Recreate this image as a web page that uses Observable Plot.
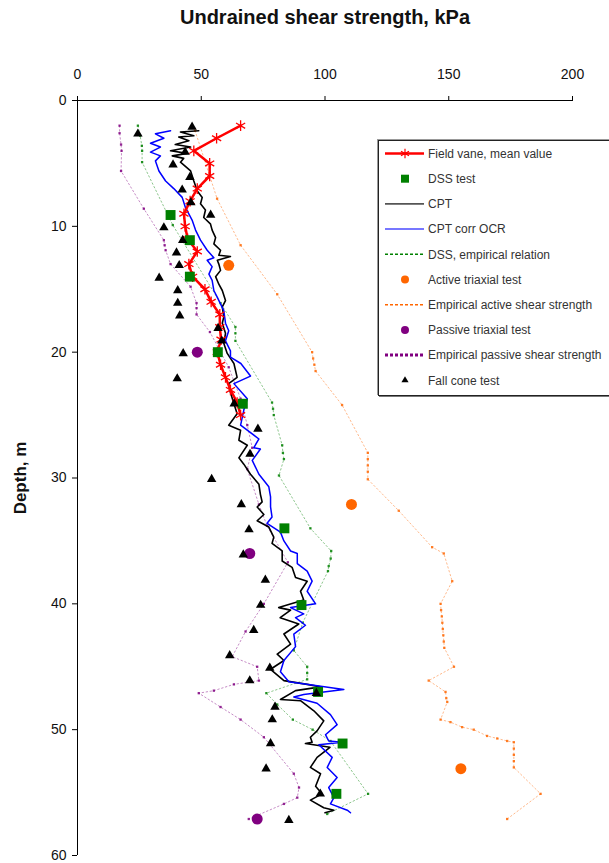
<!DOCTYPE html>
<html>
<head>
<meta charset="utf-8">
<script src="https://cdn.jsdelivr.net/npm/d3@7"></script>
<script src="https://cdn.jsdelivr.net/npm/@observablehq/plot@0.6"></script>
<style>
  html, body { margin: 0; padding: 0; background: #fff; }
  #wrap { position: relative; width: 609px; height: 863px; overflow: hidden; font-family: "Liberation Sans", Arial, sans-serif; }
  #legend { position: absolute; left: 378px; top: 140px; width: 250px; height: 254px;
            border: 1px solid #222; box-shadow: 1px 1px 0 #777, -1px -1px 0 #999; background: #fff; }
  #legend svg { display: block; }
</style>
</head>
<body>
<div id="wrap"></div>
<script>
// Undrained shear strength profile, [depth (m), su (kPa)]
const xTicks = [0, 50, 100, 150, 200];
const yTicks = [0, 10, 20, 30, 40, 50, 60];

const fieldVane = [
  [2.0, 65.9], [3.0, 56.2], [4.0, 47.0], [5.0, 53.4], [6.0, 53.4], [7.0, 48.4], [8.0, 45.5],
  [9.0, 43.0], [10.0, 43.5], [11.0, 44.5], [12.0, 48.4], [13.0, 45.0], [14.0, 46.5], [15.0, 51.5],
  [16.0, 54.0], [17.0, 57.5], [18.0, 57.5], [19.0, 58.0], [20.0, 56.5], [21.0, 57.8], [22.0, 59.8],
  [23.0, 61.8], [24.0, 64.5], [25.0, 65.9]
];

const dssTest = [
  [9.1, 37.6], [11.1, 45.4], [14.0, 45.4], [20.0, 56.7], [24.1, 66.8], [34.0, 83.6],
  [40.1, 90.5], [47.0, 97.2], [51.1, 107.1], [55.1, 104.6]
];

const cpt = [
  [2.4, 49.0], [2.5, 41.6], [2.8, 47.0], [2.9, 40.9], [3.2, 45.0], [3.5, 39.5], [3.7, 45.7],
  [4.0, 37.6], [4.2, 44.3], [4.4, 38.3], [4.6, 42.9], [4.9, 41.6], [5.6, 45.7], [6.4, 47.0],
  [7.2, 48.4], [7.7, 50.4], [8.2, 49.7], [8.7, 51.7], [9.3, 51.0], [9.8, 53.7], [10.3, 54.4],
  [10.9, 55.8], [11.4, 55.1], [11.9, 57.8], [12.3, 57.1], [12.4, 61.8], [12.7, 56.5], [13.0, 57.1],
  [13.5, 57.8], [14.0, 55.8], [14.6, 57.1], [15.1, 58.5], [15.9, 59.8], [16.4, 58.5], [17.2, 59.1],
  [17.7, 58.5], [18.5, 59.8], [19.3, 59.1], [20.1, 60.5], [20.9, 63.2], [22.0, 64.5], [22.5, 61.1],
  [23.0, 61.5], [24.1, 63.2], [24.9, 64.5], [25.8, 61.1], [26.2, 65.9], [27.0, 65.2], [27.4, 68.6],
  [28.4, 65.2], [28.9, 67.2], [29.7, 69.9], [30.5, 73.3], [31.3, 73.9], [31.9, 74.6], [32.3, 72.6],
  [32.9, 75.3], [33.4, 72.6], [33.9, 77.3], [34.7, 79.3], [35.2, 78.6], [35.8, 82.7], [36.6, 82.7],
  [37.1, 86.7], [37.9, 88.1], [38.2, 92.8], [39.0, 90.1], [39.7, 91.4], [40.3, 81.3], [40.5, 86.1],
  [41.1, 81.9], [41.6, 89.4], [42.4, 83.4], [43.2, 86.1], [44.0, 80.7], [44.5, 83.4], [45.2, 78.0],
  [46.1, 83.4], [46.4, 92.8], [46.6, 98.2], [46.9, 88.1], [47.6, 82.0], [47.7, 90.1], [48.5, 95.5],
  [49.3, 99.5], [50.1, 96.8], [50.6, 94.1], [51.0, 94.8], [51.1, 92.1], [51.4, 102.0], [52.2, 96.8],
  [53.0, 94.1], [53.5, 98.2], [54.5, 96.2], [55.1, 98.8], [55.6, 94.1], [56.2, 99.5], [56.4, 103.6],
  [56.6, 100.0]
];

const cptCorrOcr = [
  [2.4, 37.6], [2.65, 31.5], [3.0, 34.9], [3.4, 29.5], [3.7, 33.5], [4.1, 29.5], [4.4, 33.5],
  [4.8, 31.5], [5.6, 32.9], [6.4, 35.6], [7.0, 38.9], [7.7, 42.3], [8.5, 43.6], [9.5, 46.3],
  [10.3, 47.7], [11.1, 49.7], [11.9, 52.4], [12.5, 55.1], [12.7, 52.4], [13.2, 54.4], [13.8, 53.1],
  [14.3, 54.4], [15.1, 55.1], [15.6, 56.4], [16.7, 59.1], [17.7, 59.8], [18.3, 61.1], [19.1, 59.8],
  [19.9, 61.8], [20.4, 61.8], [20.9, 66.0], [21.9, 69.9], [22.5, 63.2], [23.7, 68.6], [24.6, 67.2],
  [25.8, 65.9], [26.9, 73.3], [27.6, 71.2], [27.7, 73.9], [28.6, 70.6], [29.7, 73.3], [30.7, 77.3],
  [31.5, 78.0], [32.3, 78.0], [33.1, 78.6], [33.6, 76.6], [34.3, 82.0], [35.0, 83.4], [35.8, 86.1],
  [36.0, 88.8], [36.8, 88.8], [37.4, 92.8], [38.2, 94.8], [39.0, 92.8], [40.0, 96.2], [40.3, 86.1],
  [40.8, 91.4], [41.1, 88.1], [41.7, 92.1], [42.4, 87.4], [43.4, 88.1], [44.5, 83.4], [45.4, 82.0],
  [46.2, 85.4], [46.8, 107.6], [47.2, 91.4], [47.4, 87.4], [47.9, 96.8], [48.8, 102.2], [49.6, 104.9],
  [50.4, 100.2], [50.9, 101.5], [51.0, 106.9], [51.2, 97.5], [52.2, 102.9], [53.0, 100.9],
  [53.8, 104.9], [54.6, 101.5], [55.4, 103.6], [55.9, 102.2], [56.4, 109.0], [56.6, 110.3]
];

const dssEmpirical = [
  [2.0, 24.4], [2.8, 25.3], [3.6, 26.0], [4.0, 26.1], [4.9, 26.1], [9.9, 38.5], [16.1, 57.8],
  [18.0, 63.8], [18.5, 63.8], [19.1, 63.8], [24.0, 78.6], [24.5, 79.0], [25.0, 79.3], [27.4, 82.7],
  [28.0, 83.0], [28.5, 83.4], [29.8, 81.4], [34.0, 94.1], [35.8, 102.5], [36.4, 102.3], [37.0, 101.5],
  [37.4, 101.2], [41.5, 91.0], [43.7, 87.4], [45.0, 92.8], [45.5, 92.8], [46.0, 92.8], [47.1, 76.3],
  [48.0, 80.7], [49.2, 87.0], [50.0, 95.0], [50.9, 102.2], [55.1, 117.4], [56.7, 100.9]
];

const activeTriaxial = [[13.1, 61.1], [32.1, 110.7], [53.1, 154.9]];

const activeEmpirical = [
  [2.4, 47.5], [7.8, 56.4], [11.5, 65.9], [15.4, 80.7], [20.0, 94.8], [20.5, 95.2], [21.0, 95.7],
  [21.5, 96.2], [24.2, 106.9], [28.0, 117.3], [28.5, 117.3], [29.0, 117.3], [29.5, 117.3],
  [30.1, 117.3], [32.6, 129.8], [35.5, 143.3], [36.0, 148.0], [38.2, 151.4], [40.0, 146.7],
  [40.5, 146.9], [41.0, 147.2], [41.5, 147.4], [42.0, 147.6], [42.5, 147.8], [43.0, 148.0],
  [43.5, 148.2], [45.0, 152.1], [46.1, 141.9], [47.0, 148.7], [47.5, 149.0], [47.8, 149.4],
  [49.2, 146.7], [49.4, 150.7], [49.8, 155.4], [50.0, 160.1], [50.5, 165.5], [50.7, 169.6],
  [50.9, 173.6], [51.0, 176.3], [51.5, 176.3], [52.0, 176.3], [52.5, 176.3], [53.0, 176.3],
  [55.1, 187.1], [57.1, 173.6]
];

const passiveTriaxial = [[20.0, 48.4], [36.0, 69.6], [57.1, 72.6]];

const passiveEmpirical = [
  [2.0, 17.0], [2.6, 17.0], [3.5, 17.6], [4.0, 17.8], [5.6, 17.6], [8.6, 26.8], [11.1, 34.9],
  [11.5, 35.2], [11.9, 35.6], [13.0, 37.6], [14.8, 45.7], [16.1, 48.1], [16.5, 48.1], [17.0, 48.1],
  [18.4, 53.5], [21.2, 61.1], [23.7, 65.9], [25.8, 68.6], [27.6, 70.6], [29.3, 68.6], [32.1, 73.3],
  [33.8, 76.6], [36.7, 85.0], [40.0, 75.3], [42.2, 67.9], [44.2, 62.5], [45.0, 72.6], [46.1, 73.3],
  [46.4, 63.2], [46.9, 55.1], [47.1, 49.0], [48.2, 57.8], [49.2, 65.9], [50.6, 75.3], [53.5, 87.4],
  [54.6, 89.5], [55.4, 88.8], [55.9, 83.4], [57.1, 69.2]
];

const fallCone = [
  [2.1, 46.3], [2.65, 24.4], [4.1, 43.5], [5.1, 38.6], [6.1, 45.4], [7.1, 42.3], [8.1, 45.8],
  [9.1, 53.8], [10.1, 34.9], [11.1, 42.5], [12.1, 40.0], [13.1, 41.1], [14.1, 33.0], [15.1, 40.5],
  [16.1, 40.5], [17.1, 41.3], [18.1, 56.8], [19.1, 58.3], [20.1, 42.7], [22.1, 40.3], [24.1, 63.3],
  [26.1, 72.9], [28.1, 69.7], [30.1, 54.2], [32.1, 66.2], [34.1, 69.3], [36.1, 67.0], [38.1, 75.9],
  [40.1, 74.0], [42.1, 71.2], [44.1, 61.5], [45.1, 77.7], [46.1, 69.6], [47.1, 96.5], [48.2, 79.8],
  [49.2, 78.7], [51.1, 78.0], [53.1, 76.2], [55.1, 98.1], [57.2, 85.4]
];

const legendLabels = [
  "Field vane, mean value", "DSS test", "CPT", "CPT corr OCR", "DSS, empirical relation",
  "Active triaxial test", "Empirical active shear strength", "Passive triaxial test",
  "Empirical passive shear strength", "Fall cone test"
];

const titleText = "Undrained shear strength, kPa";
const depthLabel = "Depth, m";

const C = {
  red: "#ff0000", green: "#008000", black: "#000000", blue: "#0000ff",
  orange: "#ff6600", purple: "#800080"
};

const rows = a => a.map(([d, v]) => ({d, v}));

// thin dotted empirical curve with small square vertices
const dotted = (a, color) => [
  Plot.line(rows(a), {x: "v", y: "d", stroke: color, strokeWidth: 1, strokeDasharray: "1.5,2.5", strokeOpacity: 0.45}),
  Plot.dot(rows(a), {x: "v", y: "d", symbol: "square", r: 1.3, fill: color, stroke: "none", fillOpacity: 0.85})
];

const chart = Plot.plot({
  width: 609,
  height: 863,
  marginTop: 100,
  marginLeft: 77,
  marginRight: 37,
  marginBottom: 8,
  style: {fontFamily: "'Liberation Sans', Arial, sans-serif", fontSize: "14px", color: "#111", background: "#fff"},
  x: {domain: [0, 200], axis: null},
  y: {domain: [0, 60], reverse: true, axis: null},
  marks: [
    ...dotted(dssEmpirical, C.green),
    ...dotted(activeEmpirical, C.orange),
    ...dotted(passiveEmpirical, C.purple),
    Plot.line(rows(cpt), {x: "v", y: "d", stroke: C.black, strokeWidth: 1.6}),
    Plot.line(rows(cptCorrOcr), {x: "v", y: "d", stroke: C.blue, strokeWidth: 1.5}),
    Plot.line(rows(fieldVane), {x: "v", y: "d", stroke: C.red, strokeWidth: 2.5}),
    Plot.dot(rows(fieldVane), {x: "v", y: "d", symbol: d3.symbolAsterisk, r: 5, stroke: C.red, fill: "none", strokeWidth: 1.3}),
    Plot.dot(rows(dssTest), {x: "v", y: "d", symbol: "square", r: 5.6, fill: C.green, stroke: "none"}),
    Plot.dot(rows(activeTriaxial), {x: "v", y: "d", r: 5.5, fill: C.orange, stroke: "none"}),
    Plot.dot(rows(passiveTriaxial), {x: "v", y: "d", r: 5.5, fill: C.purple, stroke: "none"}),
    Plot.dot(rows(fallCone), {x: "v", y: "d", symbol: "triangle", r: 3.5, fill: C.black, stroke: "none"}),
    Plot.ruleY([0], {stroke: "#000", strokeWidth: 1}),
    Plot.ruleX([0], {stroke: "#000", strokeWidth: 1}),
    Plot.axisX({anchor: "top", ticks: xTicks, tickSize: 5, tickPadding: 17, label: null, stroke: "#000"}),
    Plot.axisY({anchor: "left", ticks: yTicks, tickSize: 5, tickPadding: 6, label: null, stroke: "#000"}),
    Plot.text([titleText], {frameAnchor: "top", dy: -91, fontWeight: "bold", fontSize: 20, fill: "#111", lineAnchor: "top"}),
    Plot.text([depthLabel], {frameAnchor: "left", textAnchor: "middle", rotate: -90, dx: -57, fontWeight: "bold", fontSize: 17, fill: "#111"})
  ]
});

const wrap = document.getElementById("wrap");
wrap.appendChild(chart);

// legend box, clipped by the right edge of the page
const legend = d3.select(wrap).append("div").attr("id", "legend");
const lsvg = legend.append("svg").attr("width", 250).attr("height", 254);
const rowH = 25.2, y0 = 12.5, sx1 = 6, sx2 = 45, cx = 26;
const swatches = [
  g => { g.append("line").attr("x1", sx1).attr("x2", sx2).attr("stroke", C.red).attr("stroke-width", 2.5);
         g.append("path").attr("d", d3.symbol(d3.symbolAsterisk, 60)()).attr("transform", `translate(${cx},0)`).attr("stroke", C.red).attr("fill", "none").attr("stroke-width", 1.2); },
  g => g.append("rect").attr("x", cx - 4).attr("y", -4).attr("width", 8).attr("height", 8).attr("fill", C.green),
  g => g.append("line").attr("x1", sx1).attr("x2", sx2).attr("stroke", "#555").attr("stroke-width", 1.6),
  g => g.append("line").attr("x1", sx1).attr("x2", sx2).attr("stroke", "#7777ff").attr("stroke-width", 2),
  g => g.append("line").attr("x1", sx1).attr("x2", sx2).attr("stroke", C.green).attr("stroke-width", 1.4).attr("stroke-dasharray", "3,2"),
  g => g.append("circle").attr("cx", cx).attr("r", 4).attr("fill", C.orange),
  g => g.append("line").attr("x1", sx1).attr("x2", sx2).attr("stroke", C.orange).attr("stroke-width", 1.4).attr("stroke-dasharray", "3,2"),
  g => g.append("circle").attr("cx", cx).attr("r", 4).attr("fill", C.purple),
  g => g.append("line").attr("x1", sx1).attr("x2", sx2).attr("stroke", C.purple).attr("stroke-width", 3).attr("stroke-dasharray", "3,2"),
  g => g.append("path").attr("d", d3.symbol(d3.symbolTriangle, 22)()).attr("transform", `translate(${cx},0)`).attr("fill", C.black)
];
legendLabels.forEach((label, i) => {
  const g = lsvg.append("g").attr("transform", `translate(0,${y0 + i * rowH})`);
  swatches[i](g);
  g.append("text").attr("x", 49).attr("dy", "0.35em").attr("font-size", 12)
    .attr("font-family", "'Liberation Sans', Arial, sans-serif").attr("fill", "#333").text(label);
});
</script>
</body>
</html>
